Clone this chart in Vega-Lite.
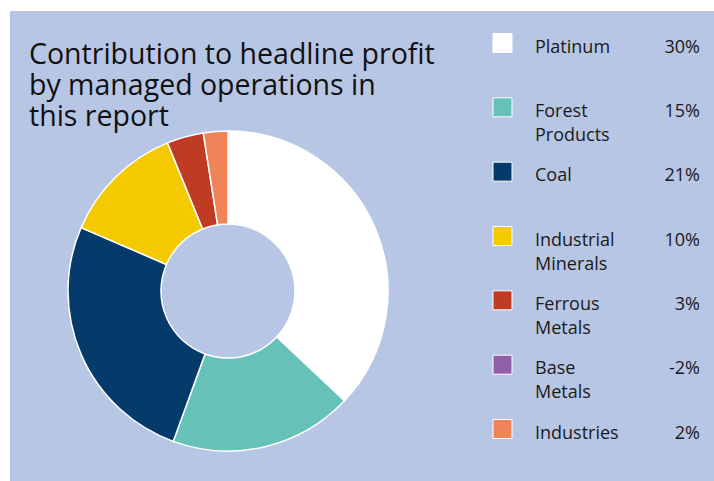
{
  "$schema": "https://vega.github.io/schema/vega-lite/v6.json",
  "background": "#ffffff",
  "padding": {"left": 10, "top": 11, "right": 0, "bottom": 0},
  "autosize": {"type": "none"},
  "width": 704,
  "height": 470,
  "config": {
    "view": {"fill": "#b7c6e4", "stroke": null},
    "font": "Open Sans",
    "locale": {"number": {"decimal": ".", "thousands": ",", "grouping": [3], "currency": ["$", ""], "minus": "-"}}
  },
  "title": {
    "text": ["Contribution to headline profit", "by managed operations in", "this report"],
    "anchor": "start",
    "frame": "group",
    "orient": "top",
    "baseline": "alphabetic",
    "offset": -143,
    "dx": 19,
    "fontSize": 28.5,
    "fontWeight": "normal",
    "font": "Open Sans",
    "color": "#111111",
    "lineHeight": 31
  },
  "data": {
    "values": [
      {"segment": "Platinum", "share": 0.30, "rank": 1},
      {"segment": "Forest Products", "share": 0.15, "rank": 2},
      {"segment": "Coal", "share": 0.21, "rank": 3},
      {"segment": "Industrial Minerals", "share": 0.10, "rank": 4},
      {"segment": "Ferrous Metals", "share": 0.03, "rank": 5},
      {"segment": "Base Metals", "share": -0.02, "rank": 6},
      {"segment": "Industries", "share": 0.02, "rank": 7}
    ]
  },
  "layer": [
    {
      "transform": [{"filter": "datum.share > 0"}],
      "mark": {"type": "arc", "outerRadius": 160, "innerRadius": 67, "stroke": "#ffffff", "strokeWidth": 1.5},
      "encoding": {
        "x": {"value": 218},
        "y": {"value": 280},
        "theta": {"field": "share", "type": "quantitative", "stack": true},
        "order": {"field": "rank", "type": "quantitative"},
        "color": {
          "field": "segment",
          "type": "nominal",
          "legend": null,
          "scale": {
            "domain": ["Platinum", "Forest Products", "Coal", "Industrial Minerals", "Ferrous Metals", "Base Metals", "Industries"],
            "range": ["#ffffff", "#66c1b9", "#043b6b", "#f5c900", "#c03b23", "#915fa8", "#f08458"]
          }
        }
      }
    },
    {
      "mark": {"type": "square", "size": 361, "stroke": "#ffffff", "strokeWidth": 1, "opacity": 1},
      "encoding": {
        "x": {"value": 492.5},
        "y": {
          "field": "segment",
          "type": "ordinal",
          "sort": {"field": "rank", "op": "min"},
          "axis": null,
          "scale": {"type": "point", "range": [32, 418], "padding": 0}
        },
        "color": {
          "field": "segment",
          "type": "nominal",
          "legend": null
        }
      }
    },
    {
      "mark": {"type": "text", "align": "left", "baseline": "alphabetic", "dy": 9.6, "fontSize": 18, "lineBreak": " ", "lineHeight": 24, "color": "#1a1a1a"},
      "encoding": {
        "x": {"value": 525},
        "y": {"field": "segment", "type": "ordinal", "sort": {"field": "rank", "op": "min"}, "axis": null},
        "text": {"field": "segment", "type": "nominal"}
      }
    },
    {
      "mark": {"type": "text", "align": "right", "baseline": "alphabetic", "dy": 9.6, "fontSize": 18, "color": "#1a1a1a"},
      "encoding": {
        "x": {"value": 690},
        "y": {"field": "segment", "type": "ordinal", "sort": {"field": "rank", "op": "min"}, "axis": null},
        "text": {"field": "share", "type": "quantitative", "format": ".0%"}
      }
    }
  ]
}
